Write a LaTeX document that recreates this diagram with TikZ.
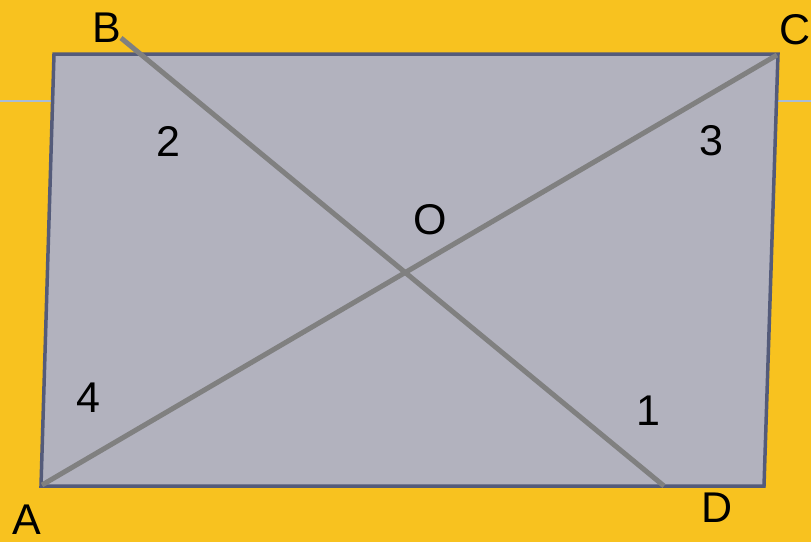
\documentclass[tikz,border=0pt]{standalone}
\usepackage{fontspec}
\setmainfont{Liberation Sans}
\definecolor{bgyellow}{HTML}{F8C21F}
\definecolor{quadfill}{HTML}{B2B2BE}
\definecolor{quadedge}{HTML}{545B7A}
\definecolor{diag}{HTML}{808080}
\definecolor{thinline}{HTML}{A9BCD6}
\tikzset{
  lbl/.style={font=\fontsize{43}{43}\selectfont, inner sep=0pt, text=black},
  quad/.style={draw=quadedge, fill=quadfill, line width=3.5pt, line join=miter},
  diagline/.style={draw=diag, line width=5pt},
  guide/.style={draw=thinline, line width=1.5pt}
}
\begin{document}
\begin{tikzpicture}[x=1pt,y=-1pt]
\fill[bgyellow] (0,0) rectangle (811,542);
\useasboundingbox (0,0) rectangle (811,542);
% corners of the quadrilateral
\coordinate (qTL) at (54,54);
\coordinate (qTR) at (778,54);
\coordinate (qBR) at (764,486);
\coordinate (qBL) at (41,486);
% thin guide line
\coordinate (gL0) at (0,101);
\coordinate (gL1) at (52.5,101);
\coordinate (gR0) at (777.5,101);
\coordinate (gR1) at (811,101);
\draw[guide] (gL0) -- (gL1);
\draw[guide] (gR0) -- (gR1);
\draw[quad] (qTL) -- (qTR) -- (qBR) -- (qBL) -- cycle;
% diagonal ends
\coordinate (pA) at (42,485);
\coordinate (pB) at (121,38);
\coordinate (pC) at (777,55);
\coordinate (pD) at (664,486);
\draw[diagline] (pB) -- (pD);
\draw[diagline] (pA) -- (pC);
% labels
\node[lbl] (lB) at (107,28) {B};
\node[lbl] (lC) at (795,30) {C};
\node[lbl] (lA) at (27,520) {A};
\node[lbl] (lD) at (717,508) {D};
\node[lbl] (lO) at (430,220) {O};
\node[lbl] (l2) at (168,141) {2};
\node[lbl] (l3) at (711,141) {3};
\node[lbl] (l4) at (88,398) {4};
\node[lbl] (l1) at (648,411) {1};
\end{tikzpicture}
\end{document}
